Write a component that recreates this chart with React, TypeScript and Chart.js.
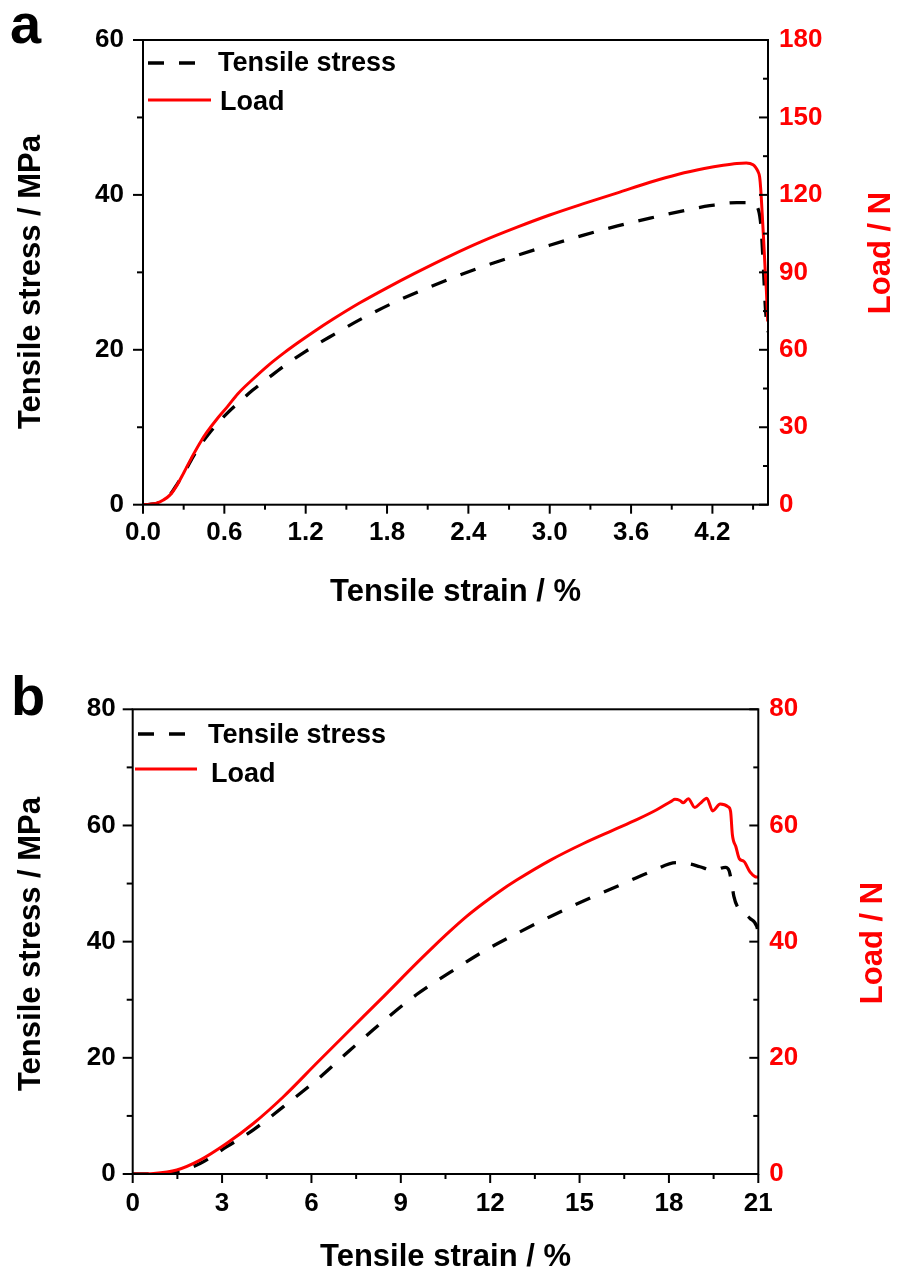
import React, { useEffect, useRef } from 'react';
import { Chart, registerables } from 'chart.js';

Chart.register(...registerables);

const FONT = '"Liberation Sans", Arial, Helvetica, sans-serif';
const RED = '#ff0000';
const BLACK = '#000000';

// ---- Panel a: tensile test, small strain ----
const strainA_stress = [0, 0.05, 0.1, 0.15, 0.2, 0.25, 0.3, 0.37, 0.42, 0.47, 0.55, 0.62, 0.7, 0.81, 0.92, 1.04, 1.2, 1.41, 1.6, 1.9, 2.27, 2.5, 2.76, 3.0, 3.25, 3.5, 3.74, 4.0, 4.18, 4.38, 4.49, 4.53, 4.553, 4.565, 4.578, 4.59, 4.608];
const stressA = [0, 0.05, 0.15, 0.5, 1.3, 2.6, 4.0, 6.2, 7.6, 8.8, 10.5, 11.8, 13.1, 14.8, 16.3, 17.9, 19.8, 22.0, 23.9, 26.5, 29.2, 30.7, 32.2, 33.5, 34.8, 36.0, 37.0, 38.0, 38.6, 39.0, 39.0, 38.5, 36.8, 34.2, 29.9, 25.6, 22.3];
const strainA_load = [0, 0.05, 0.1, 0.15, 0.2, 0.25, 0.3, 0.37, 0.43, 0.47, 0.55, 0.62, 0.7, 0.81, 0.92, 1.04, 1.15, 1.26, 1.4, 1.6, 1.8, 2.0, 2.27, 2.5, 2.76, 3.0, 3.25, 3.5, 3.74, 3.95, 4.14, 4.28, 4.38, 4.45, 4.5, 4.52, 4.535, 4.548, 4.556, 4.568, 4.578, 4.59, 4.598, 4.608];
const loadA = [0, 0.2, 0.6, 1.8, 3.8, 7.5, 12.3, 19.3, 24.8, 28.0, 33.5, 37.8, 43.0, 48.6, 53.8, 58.8, 63.0, 67.0, 71.8, 78.2, 84.0, 89.5, 96.5, 102.0, 107.5, 112.2, 116.6, 120.8, 124.9, 128.0, 130.2, 131.5, 132.2, 132.4, 131.7, 130.6, 129.2, 127.0, 122.5, 112.0, 102.5, 90.0, 83.0, 71.0];
const strainTicksA = [0, 0.6, 1.2, 1.8, 2.4, 3.0, 3.6, 4.2];
const strainMinorA = [0.3, 0.9, 1.5, 2.1, 2.7, 3.3, 3.9, 4.5];
const stressTicksA = [0, 20, 40, 60];
const stressMinorA = [10, 30, 50];
const loadTicksA = [0, 30, 60, 90, 120, 150, 180];
const loadMinorA = [15, 45, 75, 105, 135, 165];

// ---- Panel b: tensile test, large strain ----
const strainB_stress = [0, 0.7, 1.48, 2.26, 3.16, 4.05, 5.06, 6.18, 7.29, 8.41, 9.53, 10.65, 11.77, 12.89, 14.01, 15.13, 16.25, 17.37, 18.26, 18.7, 19.04, 19.49, 19.9, 20.02, 20.1, 20.18, 20.3, 20.5, 20.72, 20.95, 21.0];
const stressB = [0, 0.05, 0.4, 1.8, 4.7, 7.6, 11.6, 16.2, 21.3, 26.3, 30.9, 34.7, 38.3, 41.4, 44.3, 47.0, 49.5, 52.0, 53.6, 53.4, 52.9, 52.3, 52.8, 52.2, 50.3, 47.8, 46.0, 45.0, 44.0, 42.6, 41.4];
const strainB_load = [0, 0.7, 1.48, 2.26, 3.16, 4.05, 5.06, 6.18, 7.29, 8.41, 9.53, 10.09, 10.65, 11.2, 11.77, 12.3, 12.89, 14.01, 15.13, 16.13, 16.92, 17.59, 18.09, 18.2, 18.37, 18.48, 18.65, 18.87, 19.05, 19.27, 19.47, 19.72, 19.99, 20.07, 20.13, 20.25, 20.36, 20.52, 20.72, 20.89, 21.0];
const loadB = [0, 0.1, 0.7, 2.4, 5.3, 8.7, 13.3, 19.1, 24.8, 30.5, 36.3, 39.1, 41.8, 44.3, 46.6, 48.6, 50.6, 54.0, 56.9, 59.2, 61.0, 62.7, 64.2, 64.5, 64.3, 63.9, 64.6, 63.1, 63.8, 64.7, 62.5, 63.7, 63.2, 62.4, 58.4, 56.3, 54.3, 53.8, 52.0, 51.2, 51.1];
const strainTicksB = [0, 3, 6, 9, 12, 15, 18, 21];
const strainMinorB = [1.5, 4.5, 7.5, 10.5, 13.5, 16.5, 19.5];
const stressTicksB = [0, 20, 40, 60, 80];
const stressMinorB = [10, 30, 50, 70];
const loadTicksB = [0, 20, 40, 60, 80];
const loadMinorB = [10, 30, 50, 70];

const seriesLabels = ['Tensile stress', 'Load'];
const axisTitles = { x: 'Tensile strain / %', stress: 'Tensile stress / MPa', load: 'Load / N' };

type Pt = { x: number; y: number };
const zip = (xs: number[], ys: number[]): Pt[] => xs.map((x, i) => ({ x, y: ys[i] }));

interface PanelSpec {
  letter: string;
  xMax: number;
  stressMax: number;
  loadMax: number;
  xDecimals: number;
  stress: Pt[];
  load: Pt[];
  xTicks: number[];
  xMinor: number[];
  sTicks: number[];
  sMinor: number[];
  lTicks: number[];
  lMinor: number[];
  layout: {
    left: number; right: number; top: number; bottom: number;
    xTickPad: number; xTitlePad: number; leftTickPad: number; rightTickPad: number;
    leftTitle: [number, number]; rightTitle: [number, number];
    dashSample: [number, number, number]; lineSample: [number, number, number];
    text1: [number, number]; text2: [number, number];
    letterPos: [number, number];
  };
}

const W = 897;
const H = 638;
const MAJOR = 9;
const MINOR = 5;
const TITLE_SIZE = 31;
const TICK_SIZE = 26;
const LEGEND_SIZE = 27;

const panels: PanelSpec[] = [
  {
    letter: 'a', xMax: 4.61, stressMax: 60, loadMax: 180, xDecimals: 1,
    stress: zip(strainA_stress, stressA), load: zip(strainA_load, loadA),
    xTicks: strainTicksA, xMinor: strainMinorA,
    sTicks: stressTicksA, sMinor: stressMinorA,
    lTicks: loadTicksA, lMinor: loadMinorA,
    layout: {
      left: 143, right: 768, top: 40, bottom: 504.7,
      xTickPad: 13, xTitlePad: 27, leftTickPad: 19, rightTickPad: 11,
      leftTitle: [31.2, 282], rightTitle: [881, 253],
      dashSample: [148, 197, 63], lineSample: [148, 211, 100],
      text1: [218, 71], text2: [220, 110],
      letterPos: [10, 43],
    },
  },
  {
    letter: 'b', xMax: 21, stressMax: 80, loadMax: 80, xDecimals: 0,
    stress: zip(strainB_stress, stressB), load: zip(strainB_load, loadB),
    xTicks: strainTicksB, xMinor: strainMinorB,
    sTicks: stressTicksB, sMinor: stressMinorB,
    lTicks: loadTicksB, lMinor: loadMinorB,
    layout: {
      left: 132.7, right: 758.3, top: 71.3, bottom: 536,
      xTickPad: 14, xTitlePad: 0, leftTickPad: 17, rightTickPad: 11,
      leftTitle: [31.2, 306], rightTitle: [873, 305],
      dashSample: [138, 190, 96], lineSample: [135, 197, 131],
      text1: [208, 105], text2: [211, 144],
      letterPos: [11, 77],
    },
  },
];

// Frame, tick marks, inset legend, y-axis titles and the panel letter.
function decorPlugin(spec: PanelSpec) {
  return {
    id: 'panelDecor',
    afterDatasetsDraw(chart: any) {
      const { ctx, chartArea: a, scales } = chart;
      const L = spec.layout;
      const seg = (x1: number, y1: number, x2: number, y2: number) => {
        ctx.beginPath();
        ctx.moveTo(x1, y1);
        ctx.lineTo(x2, y2);
        ctx.stroke();
      };
      ctx.save();
      ctx.strokeStyle = BLACK;
      ctx.lineWidth = 2;
      ctx.lineCap = 'butt';
      ctx.setLineDash([]);
      ctx.strokeRect(a.left, a.top, a.right - a.left, a.bottom - a.top);

      spec.xTicks.forEach((v) => { const p = scales.x.getPixelForValue(v); seg(p, a.bottom, p, a.bottom + MAJOR); });
      spec.xMinor.forEach((v) => { const p = scales.x.getPixelForValue(v); seg(p, a.bottom, p, a.bottom + MINOR); });
      spec.sTicks.forEach((v) => { const p = scales.yStress.getPixelForValue(v); seg(a.left - MAJOR - 1, p, a.left, p); });
      spec.sMinor.forEach((v) => { const p = scales.yStress.getPixelForValue(v); seg(a.left - MINOR - 1, p, a.left, p); });
      spec.lTicks.forEach((v) => { const p = scales.yLoad.getPixelForValue(v); seg(a.right - MAJOR, p, a.right, p); });
      spec.lMinor.forEach((v) => { const p = scales.yLoad.getPixelForValue(v); seg(a.right - MINOR, p, a.right, p); });

      // inset legend
      const ds = chart.data.datasets;
      const samples = [L.dashSample, L.lineSample];
      const texts = [L.text1, L.text2];
      ds.forEach((d: any, i: number) => {
        const [x1, x2, y] = samples[i];
        ctx.strokeStyle = d.borderColor;
        ctx.lineWidth = d.borderWidth;
        ctx.setLineDash(d.borderDash || []);
        seg(x1, y, x2, y);
        ctx.setLineDash([]);
        ctx.fillStyle = BLACK;
        ctx.font = `bold ${LEGEND_SIZE}px ${FONT}`;
        ctx.textAlign = 'left';
        ctx.textBaseline = 'alphabetic';
        ctx.fillText(d.label, texts[i][0], texts[i][1]);
      });

      // y-axis titles, both reading bottom to top
      ctx.font = `bold ${TITLE_SIZE}px ${FONT}`;
      ctx.textAlign = 'center';
      ctx.textBaseline = 'middle';
      ctx.fillStyle = BLACK;
      ctx.save();
      ctx.translate(L.leftTitle[0], L.leftTitle[1]);
      ctx.rotate(-Math.PI / 2);
      ctx.fillText(axisTitles.stress, 0, 0);
      ctx.restore();
      ctx.fillStyle = RED;
      ctx.save();
      ctx.translate(L.rightTitle[0], L.rightTitle[1]);
      ctx.rotate(-Math.PI / 2);
      ctx.fillText(axisTitles.load, 0, 0);
      ctx.restore();

      // panel letter
      ctx.fillStyle = BLACK;
      ctx.font = `bold 56px ${FONT}`;
      ctx.textAlign = 'left';
      ctx.textBaseline = 'alphabetic';
      ctx.fillText(spec.letter, L.letterPos[0], L.letterPos[1]);
      ctx.restore();
    },
  };
}

function buildConfig(spec: PanelSpec): any {
  const L = spec.layout;
  const tickFont = { family: FONT, size: TICK_SIZE, weight: 'bold' as const };
  const fixedTicks = (vals: number[]) => (scale: any) => { scale.ticks = vals.map((value) => ({ value })); };
  return {
    type: 'line',
    data: {
      datasets: [
        {
          label: seriesLabels[0], data: spec.stress, yAxisID: 'yStress',
          borderColor: BLACK, borderWidth: 3.3, borderDash: [16, 15],
          pointRadius: 0, cubicInterpolationMode: 'monotone', fill: false, order: 1,
        },
        {
          label: seriesLabels[1], data: spec.load, yAxisID: 'yLoad',
          borderColor: RED, borderWidth: 3,
          pointRadius: 0, cubicInterpolationMode: 'monotone', fill: false, order: 0,
        },
      ],
    },
    options: {
      responsive: false,
      animation: false,
      devicePixelRatio: 1,
      layout: { padding: { top: L.top, left: 0, right: 0, bottom: 0 } },
      plugins: { legend: { display: false }, tooltip: { enabled: false } },
      scales: {
        x: {
          type: 'linear', position: 'bottom', min: 0, max: spec.xMax,
          afterBuildTicks: fixedTicks(spec.xTicks),
          afterFit: (s: any) => { s.height = H - L.bottom; },
          grid: { display: false, drawTicks: false },
          border: { display: false },
          ticks: {
            autoSkip: false, maxRotation: 0, padding: L.xTickPad, color: BLACK, font: tickFont,
            callback: (v: number) => Number(v).toFixed(spec.xDecimals),
          },
          title: {
            display: true, text: axisTitles.x, color: BLACK,
            font: { family: FONT, size: TITLE_SIZE, weight: 'bold' },
            padding: { top: 0, bottom: L.xTitlePad },
          },
        },
        yStress: {
          type: 'linear', position: 'left', min: 0, max: spec.stressMax,
          afterBuildTicks: fixedTicks(spec.sTicks),
          afterFit: (s: any) => { s.width = L.left; },
          grid: { display: false, drawTicks: false },
          border: { display: false },
          ticks: { autoSkip: false, padding: L.leftTickPad, color: BLACK, font: tickFont },
        },
        yLoad: {
          type: 'linear', position: 'right', min: 0, max: spec.loadMax,
          afterBuildTicks: fixedTicks(spec.lTicks),
          afterFit: (s: any) => { s.width = W - L.right; },
          grid: { display: false, drawTicks: false },
          border: { display: false },
          ticks: { autoSkip: false, padding: L.rightTickPad, color: RED, font: tickFont },
        },
      },
    },
    plugins: [decorPlugin(spec)],
  };
}

function Panel({ spec }: { spec: PanelSpec }) {
  const ref = useRef<HTMLCanvasElement>(null);
  useEffect(() => {
    if (!ref.current) return;
    const chart = new Chart(ref.current, buildConfig(spec));
    return () => chart.destroy();
  }, [spec]);
  return <canvas ref={ref} width={W} height={H} style={{ display: 'block', width: W, height: H }} />;
}

export default function App() {
  return (
    <div style={{ position: 'absolute', left: 0, top: 0, width: W, height: H * 2, background: '#fff', overflow: 'hidden' }}>
      {panels.map((p) => (
        <Panel key={p.letter} spec={p} />
      ))}
    </div>
  );
}
